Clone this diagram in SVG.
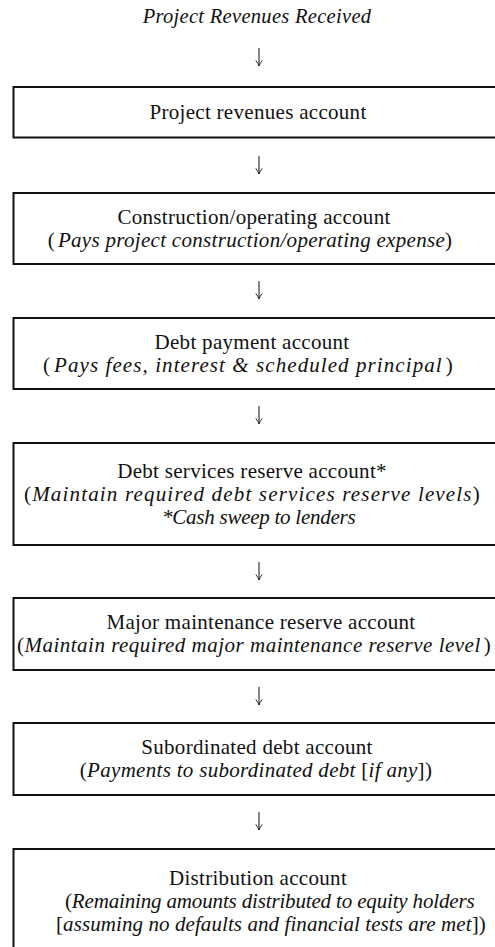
<svg xmlns="http://www.w3.org/2000/svg" width="495" height="947" viewBox="0 0 495 947">
<defs>
<style>
text{font-family:"Liberation Serif","Times New Roman",serif;font-size:21px;letter-spacing:0.3px;fill:#111;text-anchor:middle}
.i{font-style:italic}
.t{font-size:20.5px}
.box{fill:#fff;stroke:#111;stroke-width:2}
.arr{stroke:#222;stroke-width:1.1;fill:none}
</style>
<marker id="ah" viewBox="0 0 10 10" refX="9" refY="5" markerWidth="8" markerHeight="8" markerUnits="userSpaceOnUse" orient="auto">
<path d="M2,1 Q6,4 9,5 Q6,6 2,9" fill="none" stroke="#222" stroke-width="1.2"/>
</marker>
</defs>
<rect width="495" height="947" fill="#fff"/>
<text x="257" y="23" class="i t">Project Revenues Received</text>
<g id="connectors">
<line class="arr" x1="259" y1="48" x2="259" y2="66" marker-end="url(#ah)"/>
<line class="arr" x1="259" y1="156" x2="259" y2="174" marker-end="url(#ah)"/>
<line class="arr" x1="259" y1="281" x2="259" y2="299" marker-end="url(#ah)"/>
<line class="arr" x1="259" y1="406" x2="259" y2="424" marker-end="url(#ah)"/>
<line class="arr" x1="259" y1="562" x2="259" y2="580" marker-end="url(#ah)"/>
<line class="arr" x1="259" y1="687" x2="259" y2="705" marker-end="url(#ah)"/>
<line class="arr" x1="259" y1="812" x2="259" y2="830" marker-end="url(#ah)"/>
</g>
<g id="n1">
<rect class="box" x="13.5" y="87" width="500" height="50.5"/>
<text x="258" y="119">Project revenues account</text>
</g>
<g id="n2">
<rect class="box" x="13.5" y="193" width="500" height="71"/>
<text x="254" y="224">Construction/operating account</text>
<text x="250" y="247">(<tspan class="i" dx="3">Pays project construction/operating expense</tspan>)</text>
</g>
<g id="n3">
<rect class="box" x="13.5" y="318" width="500" height="71"/>
<text x="252" y="349">Debt payment account</text>
<text x="248" y="372" textLength="410" lengthAdjust="spacing">(<tspan class="i" dx="3">Pays fees, interest &amp; scheduled principal</tspan><tspan dx="3">)</tspan></text>
</g>
<g id="n4">
<rect class="box" x="13.5" y="443" width="500" height="102"/>
<text x="252" y="478">Debt services reserve account*</text>
<text x="252" y="501" textLength="456" lengthAdjust="spacing">(<tspan class="i">Maintain required debt services reserve levels</tspan>)</text>
<text x="259" y="524" class="i" textLength="194" lengthAdjust="spacing">*Cash sweep to lenders</text>
</g>
<g id="n5">
<rect class="box" x="13.5" y="598" width="500" height="72"/>
<text x="261" y="629">Major maintenance reserve account</text>
<text x="254" y="652" textLength="474" lengthAdjust="spacing">(<tspan class="i">Maintain required major maintenance reserve level</tspan><tspan dx="3">)</tspan></text>
</g>
<g id="n6">
<rect class="box" x="13.5" y="723" width="500" height="72"/>
<text x="257" y="754">Subordinated debt account</text>
<text x="256" y="777">(<tspan class="i">Payments to subordinated debt </tspan>[<tspan class="i">if any</tspan>])</text>
</g>
<g id="n7">
<rect class="box" x="13.5" y="849" width="500" height="120"/>
<text x="258" y="885">Distribution account</text>
<text x="270" y="908" textLength="410" lengthAdjust="spacing">(<tspan class="i">Remaining amounts distributed to equity holders</tspan></text>
<text x="271" y="931" textLength="430" lengthAdjust="spacing">[<tspan class="i">assuming no defaults and financial tests are met</tspan>])</text>
</g>
</svg>
